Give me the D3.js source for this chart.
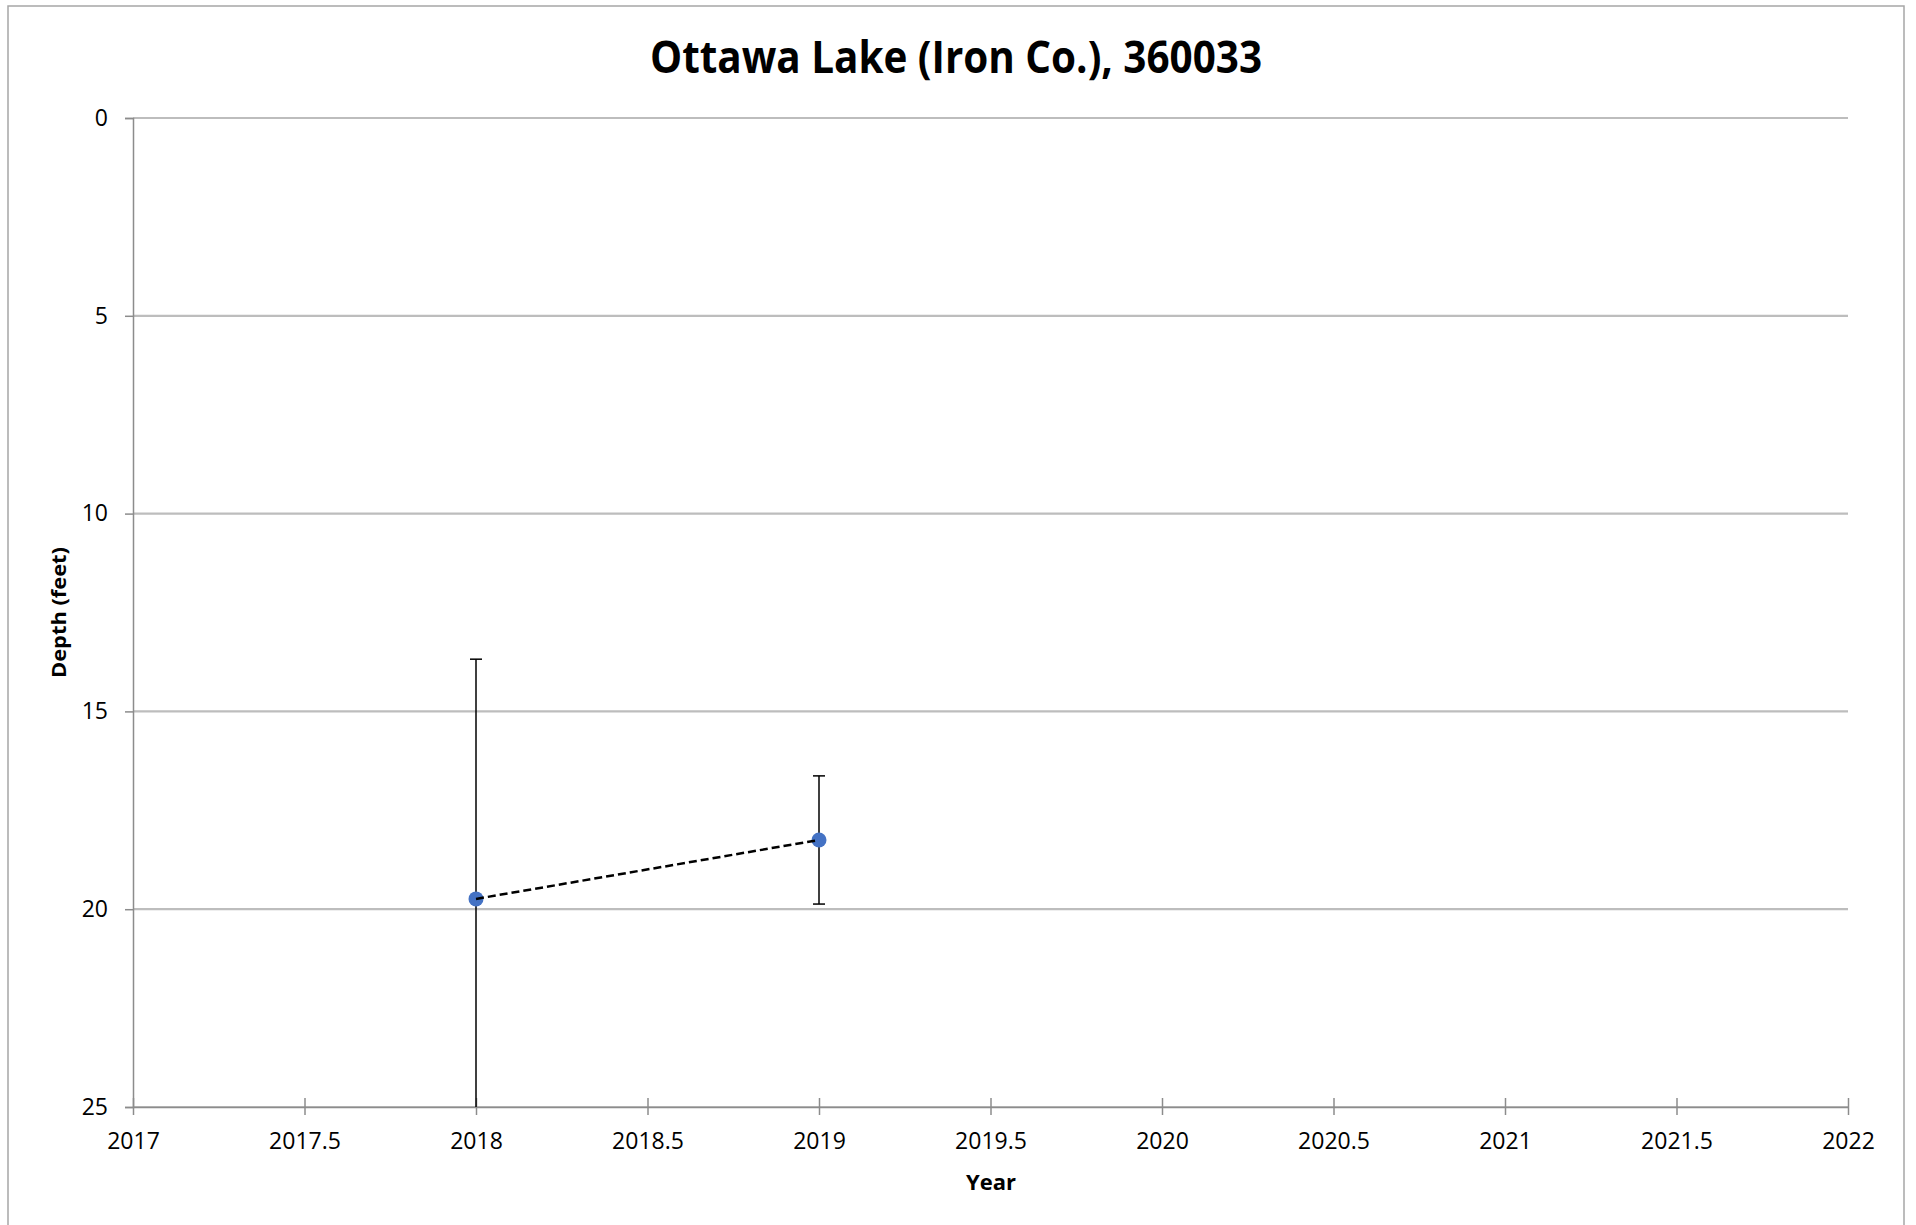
<!DOCTYPE html>
<html>
<head>
<meta charset="utf-8">
<script src="https://cdn.jsdelivr.net/npm/d3@7"></script>
<style>
  html, body { margin: 0; padding: 0; background: #fff; }
  svg { display: block; }
  text { font-family: "Open Sans", "Noto Sans", sans-serif; fill: #000; }
</style>
</head>
<body>
<svg id="chart" width="1916" height="1225"></svg>
<script>
// ---- data ----
const title = "Ottawa Lake (Iron Co.), 360033";
const xLabel = "Year";
const yLabel = "Depth (feet)";
const years = [2018, 2019];
const depths = [19.74, 18.25];
const errors = [6.06, 1.62];
const xTicks = [2017, 2017.5, 2018, 2018.5, 2019, 2019.5, 2020, 2020.5, 2021, 2021.5, 2022];
const yTicks = [0, 5, 10, 15, 20, 25];
const xDomain = [2017, 2022];
const yDomain = [0, 25];

// ---- layout ----
const svg = d3.select("#chart");
const plot = { left: 133, right: 1848, top: 118, bottom: 1107 };

const x = d3.scaleLinear().domain(xDomain).range([plot.left, plot.right]);
const y = d3.scaleLinear().domain(yDomain).range([plot.top, plot.bottom]);

// outer chart border
svg.append("rect")
  .attr("x", 8).attr("y", 6)
  .attr("width", 1896).attr("height", 1240)
  .attr("fill", "none").attr("stroke", "#a6a6a6").attr("stroke-width", 1.5);

// title
svg.append("text")
  .attr("x", 956).attr("y", 73)
  .attr("text-anchor", "middle")
  .attr("font-size", 44).attr("font-weight", 700)
  .attr("textLength", 612).attr("lengthAdjust", "spacingAndGlyphs")
  .text(title);

// gridlines
svg.append("g")
  .selectAll("line").data(yTicks).join("line")
  .attr("x1", plot.left).attr("x2", plot.right)
  .attr("y1", d => y(d)).attr("y2", d => y(d))
  .attr("stroke", "#bdbdbd").attr("stroke-width", 2.2);

// y axis
const yAxis = svg.append("g")
  .attr("transform", `translate(${plot.left},0)`)
  .call(d3.axisLeft(y).tickValues(yTicks).tickSize(8).tickPadding(17).tickFormat(d3.format("d")));
yAxis.select(".domain").attr("stroke", "#8c8c8c").attr("stroke-width", 1.5);
yAxis.selectAll(".tick line").attr("stroke", "#8c8c8c").attr("stroke-width", 1.5);
yAxis.selectAll(".tick text").attr("font-size", 23).attr("font-family", "Open Sans").attr("fill", "#000");

// x axis
const xAxis = svg.append("g")
  .attr("transform", `translate(0,${plot.bottom})`)
  .call(d3.axisBottom(x).tickValues(xTicks).tickSizeInner(8).tickSizeOuter(0).tickPadding(18).tickFormat(d => String(d)));
xAxis.select(".domain").attr("stroke", "#8c8c8c").attr("stroke-width", 1.5);
xAxis.selectAll(".tick line").attr("y1", -9).attr("y2", 8).attr("stroke", "#8c8c8c").attr("stroke-width", 1.5);
xAxis.selectAll(".tick text").attr("font-size", 23).attr("font-family", "Open Sans").attr("fill", "#000");

// axis titles
svg.append("text")
  .attr("x", 991).attr("y", 1190)
  .attr("text-anchor", "middle")
  .attr("font-size", 22).attr("font-weight", 700)
  .text(xLabel);

svg.append("text")
  .attr("transform", `translate(66,612.5) rotate(-90)`)
  .attr("text-anchor", "middle")
  .attr("font-size", 20).attr("font-weight", 700)
  .attr("textLength", 131).attr("lengthAdjust", "spacingAndGlyphs")
  .text(yLabel);

// clip
svg.append("clipPath").attr("id", "plotclip")
  .append("rect")
  .attr("x", plot.left - 20).attr("y", plot.top)
  .attr("width", plot.right - plot.left + 40).attr("height", plot.bottom - plot.top);

const data = years.map((yr, i) => ({ year: yr, depth: depths[i], err: errors[i] }));
const g = svg.append("g").attr("clip-path", "url(#plotclip)");

// error bars
const eb = g.append("g").selectAll("g").data(data).join("g");
eb.append("line")
  .attr("x1", d => x(d.year)).attr("x2", d => x(d.year))
  .attr("y1", d => y(d.depth - d.err)).attr("y2", d => y(d.depth + d.err))
  .attr("stroke", "#000").attr("stroke-width", 1.5);
eb.append("line")
  .attr("x1", d => x(d.year) - 6).attr("x2", d => x(d.year) + 6)
  .attr("y1", d => y(d.depth - d.err)).attr("y2", d => y(d.depth - d.err))
  .attr("stroke", "#000").attr("stroke-width", 1.5);
eb.append("line")
  .attr("x1", d => x(d.year) - 6).attr("x2", d => x(d.year) + 6)
  .attr("y1", d => y(d.depth + d.err)).attr("y2", d => y(d.depth + d.err))
  .attr("stroke", "#000").attr("stroke-width", 1.5);

// markers
g.append("g").selectAll("circle").data(data).join("circle")
  .attr("cx", d => x(d.year)).attr("cy", d => y(d.depth))
  .attr("r", 7.5).attr("fill", "#4472C4");

// dashed line
g.append("path")
  .datum(data)
  .attr("d", d3.line().x(d => x(d.year)).y(d => y(d.depth)))
  .attr("fill", "none").attr("stroke", "#000")
  .attr("stroke-width", 2.5).attr("stroke-dasharray", "8,4");
</script>
</body>
</html>
